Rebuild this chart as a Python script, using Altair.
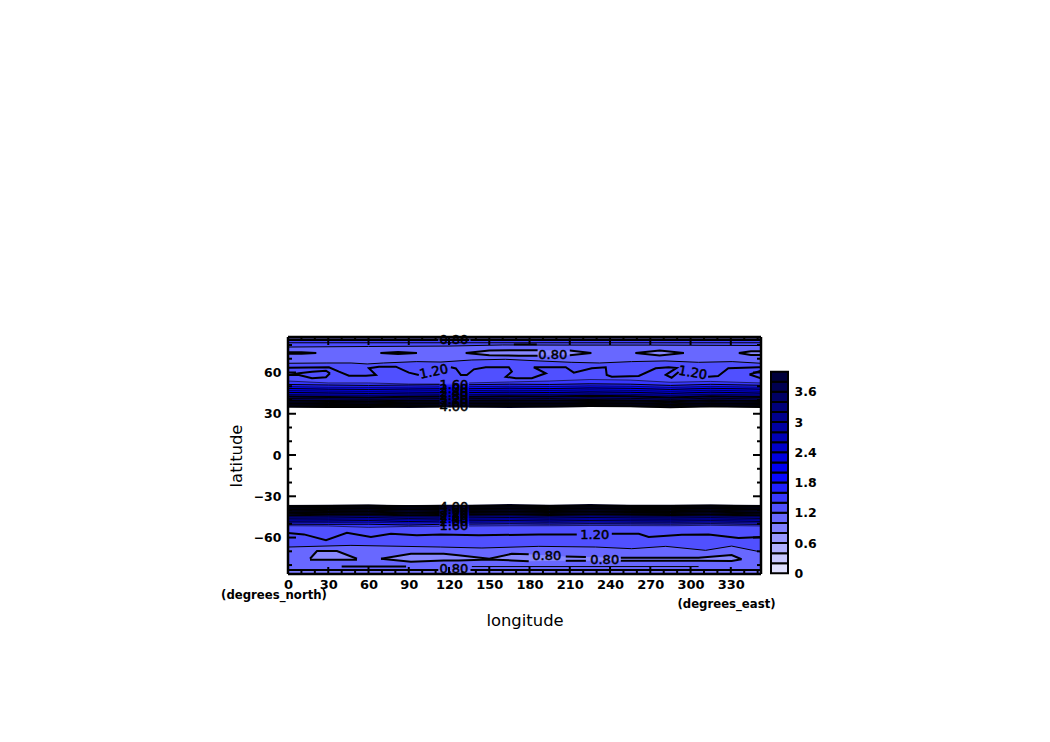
import altair as alt
import pandas as pd

# ---------- data ----------
FONT = "DejaVu Sans"
LON_DOMAIN = [0, 352.5]
LAT_DOMAIN = [-86.5, 85.8]
LON_TICKS = [0, 30, 60, 90, 120, 150, 180, 210, 240, 270, 300, 330]
LAT_TICKS = [-60, -30, 0, 30, 60]
LON_MAJOR = [30, 60, 90, 120, 150, 180, 210, 240, 270, 300, 330]
LON_MINOR = [10, 20, 40, 50, 70, 80, 100, 110, 130, 140, 160, 170, 190, 200, 220, 230, 250, 260, 280, 290, 310, 320, 340, 350]
LAT_MAJOR = [-60, -30, 0, 30, 60]
LAT_MINOR = [-80, -70, -50, -40, -20, -10, 10, 20, 40, 50, 70, 80]

CB_BOTTOM = [0, 0.2, 0.4, 0.6, 0.8, 1.0, 1.2, 1.4, 1.6, 1.8, 2.0, 2.2, 2.4, 2.6, 2.8, 3.0, 3.2, 3.4, 3.6, 3.8]
CB_COLORS = ["#e0e0ff", "#c8c8ff", "#b0b0ff", "#9898ff", "#8080ff", "#6868ff", "#5050ff", "#3838ff", "#2020ff", "#0808ff",
             "#0000f0", "#0000dc", "#0000c8", "#0000b4", "#0000a0", "#00008c", "#000078", "#000064", "#000050", "#00003c"]
CB_TICKS = [0, 0.6, 1.2, 1.8, 2.4, 3, 3.6]

STATIONS = [0, 30, 60, 90, 113, 135, 165, 195, 225, 255, 285, 315, 352.5]
N_14 = [53.8, 52.4, 52.4, 51.6, 51.6, 52.4, 53.1, 53.8, 54.9, 54.5, 52.9, 53.5, 52.4]
N_16 = [51.3, 50.9, 50.6, 50.9, 51.1, 51.1, 51.5, 51.3, 51.8, 51.5, 50.6, 51.4, 50.7]
N_18 = [49.8, 49.3, 49.2, 49.4, 49.6, 49.7, 50.0, 49.8, 50.3, 50.0, 49.2, 49.9, 49.3]
N_20 = [48.4, 47.9, 47.7, 48.0, 48.2, 48.2, 48.6, 48.3, 48.8, 48.5, 47.7, 48.5, 47.9]
N_22 = [46.9, 46.5, 46.3, 46.6, 46.8, 46.8, 47.1, 46.9, 47.4, 47.0, 46.3, 47.1, 46.4]
N_24 = [45.5, 45.1, 44.8, 45.1, 45.3, 45.4, 45.7, 45.4, 45.9, 45.6, 44.8, 45.7, 45.0]
N_26 = [44.0, 43.6, 43.4, 43.7, 43.9, 43.9, 44.2, 44.0, 44.5, 44.1, 43.4, 44.2, 43.6]
N_28 = [42.5, 42.2, 41.9, 42.3, 42.5, 42.4, 42.8, 42.5, 43.0, 42.7, 41.9, 42.8, 42.1]
N_30 = [41.1, 40.8, 40.5, 40.8, 41.0, 41.0, 41.3, 41.1, 41.5, 41.2, 40.5, 41.3, 40.7]
N_32 = [39.6, 39.3, 39.1, 39.4, 39.5, 39.6, 39.8, 39.6, 40.0, 39.7, 39.1, 39.9, 39.3]
N_34 = [38.5, 38.2, 38.0, 38.3, 38.4, 38.5, 38.7, 38.5, 38.9, 38.7, 38.1, 38.8, 38.2]
N_36 = [37.5, 37.1, 36.9, 37.2, 37.4, 37.4, 37.7, 37.4, 37.8, 37.6, 37.0, 37.7, 37.1]
N_38 = [36.4, 36.0, 35.9, 36.2, 36.3, 36.3, 36.6, 36.4, 36.7, 36.5, 35.9, 36.6, 36.1]
N_40 = [35.3, 35.0, 34.9, 35.2, 35.3, 35.3, 35.5, 35.3, 35.6, 35.5, 34.8, 35.5, 35.0]
N_EDGE = [34.6, 34.3, 34.5, 34.2, 34.6, 34.5, 34.2, 34.6, 34.9, 35.0, 34.4, 34.9, 34.5]

S_EDGE = [-36.2, -36.0, -35.8, -36.3, -36.0, -35.9, -35.7, -36.0, -35.7, -35.9, -36.0, -35.8, -36.2]
S_40 = [-37.2, -37.0, -36.9, -37.3, -37.1, -37.0, -36.8, -37.1, -36.8, -37.0, -37.1, -36.9, -37.3]
S_38 = [-38.3, -38.1, -38.0, -38.4, -38.2, -38.1, -37.9, -38.2, -37.9, -38.1, -38.2, -38.0, -38.4]
S_36 = [-39.4, -39.2, -39.1, -39.5, -39.3, -39.2, -39.0, -39.3, -39.0, -39.2, -39.3, -39.1, -39.5]
S_34 = [-40.5, -40.3, -40.2, -40.6, -40.4, -40.3, -40.1, -40.4, -40.1, -40.3, -40.4, -40.2, -40.6]
S_32 = [-41.6, -41.4, -41.3, -41.7, -41.5, -41.4, -41.2, -41.5, -41.2, -41.4, -41.5, -41.3, -41.7]
S_30 = [-42.6, -42.4, -42.3, -42.7, -42.5, -42.4, -42.2, -42.5, -42.2, -42.4, -42.5, -42.3, -42.7]
S_28 = [-43.7, -43.5, -43.3, -43.8, -43.6, -43.5, -43.3, -43.6, -43.3, -43.5, -43.6, -43.4, -43.8]
S_26 = [-44.8, -44.7, -44.4, -44.9, -44.7, -44.6, -44.4, -44.7, -44.4, -44.6, -44.7, -44.5, -44.9]
S_24 = [-45.9, -45.8, -45.5, -46.0, -45.8, -45.7, -45.5, -45.8, -45.5, -45.7, -45.8, -45.6, -46.0]
S_22 = [-47.0, -46.9, -46.6, -47.1, -46.9, -46.8, -46.6, -46.9, -46.6, -46.8, -46.9, -46.7, -47.1]
S_20 = [-48.1, -48.0, -47.7, -48.3, -48.0, -47.9, -47.7, -48.0, -47.7, -47.9, -48.0, -47.8, -48.2]
S_18 = [-49.2, -49.1, -48.9, -49.5, -49.2, -49.0, -48.8, -49.1, -48.8, -49.0, -49.1, -48.9, -49.3]
S_16 = [-50.3, -50.4, -50.3, -50.9, -50.4, -50.2, -50.0, -50.2, -50.0, -50.1, -50.2, -50.0, -50.4]
S_14 = [-51.4, -51.6, -52.6, -51.9, -51.8, -51.6, -51.4, -51.4, -51.2, -51.3, -51.4, -51.1, -51.6]

N_LINE_A_LON = [0, 112, 113, 135, 136, 352.5]
N_LINE_A_LAT = [83.6, 83.6, 83.6, 83.6, 83.6, 83.6]
N_LINE_B_LON = [0, 352.5]
N_LINE_B_LAT = [81.6, 81.6]
N_LINE_C_LON = [0, 60, 120, 160, 210, 270, 352.5]
N_LINE_C_LAT = [78.5, 78.9, 79.2, 80.0, 79.9, 79.9, 79.6]
N_THIN_LON = [0, 29, 47, 59, 71, 96, 114, 137, 162, 187, 211, 232, 256, 281, 306, 331, 352.5]
N_THIN_LAT = [66.7, 66.9, 66.9, 66.2, 66.9, 67.9, 67.6, 69.1, 69.6, 68.4, 67.4, 66.9, 67.9, 68.4, 67.4, 67.9, 66.7]
N_120_LON = [0, 30.5, 38, 45.4, 58.1, 65.5, 60.3, 67.8, 80.4, 90.1, 97.5, 121.4, 125.1, 128.8, 133.3, 138.5, 147.4, 164.6, 166.8, 162.3, 169.8, 181.7, 192.1, 183.2, 207, 213, 226.4, 236.8, 237.5, 241.3, 261.4, 274, 283.7, 289.6, 281.5, 285.9, 291.1, 313.1, 320.6, 328.1, 350.7, 352.5]
N_120_LAT = [63.5, 63.8, 60.6, 57.7, 57.7, 58.2, 63.1, 64.2, 64.2, 59.9, 58.2, 63.8, 62.9, 58.2, 58.2, 62.3, 63.8, 63.8, 60.6, 56.9, 55.8, 55.8, 59.4, 63.8, 63.8, 59.9, 63.1, 63.8, 58.2, 56.9, 57.5, 63.1, 63.8, 63.3, 58.2, 56.2, 60.4, 56.9, 57.5, 63.1, 63.8, 63.8]
N_120_BREAKS = [97.5, 291.1]

S_120_LON = [0, 11.9, 28.3, 43.9, 61.8, 76.7, 96, 113.9, 142.2, 186.9, 215.2, 241.3, 261.4, 268.8, 293.4, 313.5, 335.8, 352.5]
S_120_LAT = [-56.7, -57.7, -62.0, -56.5, -59.6, -57.2, -58.4, -57.7, -58.4, -57.7, -57.7, -57.2, -57.2, -59.6, -58.0, -57.7, -60.4, -59.6]
S_120_BREAKS = [215.2]
S_THIN_LON = [0, 46.9, 113.9, 144.5, 186.9, 229.3, 256.1, 281.5, 311.2, 330.6, 352.5]
S_THIN_LAT = [-66.9, -65.7, -66.9, -67.6, -66.4, -66.9, -68.1, -66.4, -69.3, -66.2, -70.5]
S_LOW_THICK_LON = [40, 88]
S_LOW_THICK_LAT = [-81.1, -81.1]
S_LOW_THIN_LON = [137, 306]
S_LOW_THIN_LAT = [-81.1, -81.1]
S_LOW_B_LON = [0, 112, 136, 352.5]
S_LOW_B_LAT = [-83.6, -83.6, -83.6, -83.6]
N_BAR_LON = [168.3, 185.4]
N_BAR_LAT = [80.4, 80.4]

LENS_COLOR = "#8888ff"
L1 = ([0, 10, 21], [74.8, 74.8, 74.2], [73.6, 73.6, 74.2], LENS_COLOR, [])
L2 = ([69, 82, 96], [74.2, 74.9, 74.2], [74.2, 73.5, 74.2], LENS_COLOR, [])
L3 = ([132.5, 150, 172, 186, 210, 226], [74.2, 76.0, 76.2, 76.2, 76.0, 74.2], [74.2, 72.5, 72.2, 72.2, 72.5, 74.2], LENS_COLOR, [186])
L4 = ([259, 277, 295], [74.2, 75.9, 74.2], [74.2, 72.4, 74.2], LENS_COLOR, [])
L5 = ([336, 345, 352.5], [74.2, 75.5, 75.5], [74.2, 72.8, 72.8], LENS_COLOR, [])
N_LOOP_1 = ([0.7, 8.2, 17.9, 28.3, 31.3], [58.2, 59.5, 60.5, 61.3, 59.4], [58.2, 58.2, 55.8, 56.5, 59.4], "#5050ff", [])
N_LOOP_2 = ([344, 352.5], [58.5, 61.3], [58.5, 55.8], "#5050ff", [])
S1 = ([16.4, 21.6, 36.5, 51.4], [-75.4, -69.8, -69.8, -75.4], [-76.1, -76.1, -76.1, -76.1], LENS_COLOR, [])
S2 = ([69.3, 91.6, 116, 127, 150, 166.8, 179.4, 207, 222, 248, 306, 330.6, 338],
      [-75.4, -71.8, -71.8, -72.9, -75.4, -71.8, -72.2, -73.8, -74.2, -74.6, -74.6, -72.7, -75.8],
      [-75.4, -77.6, -76.6, -76.6, -75.9, -76.6, -77.3, -76.9, -76.9, -76.8, -76.8, -77.1, -75.8],
      LENS_COLOR, [179.4, 222])

LABEL_TEXT = ["0.80", "1.20", "1.60", "2.00", "2.40", "2.80", "3.20", "3.60", "4.00", "0.80", "1.20",
              "4.00", "3.60", "3.20", "2.80", "2.40", "2.00", "1.60", "1.20", "0.80", "0.80", "0.80"]
LABEL_LON = [123.6, 108.7, 123.6, 123.6, 123.6, 123.6, 123.6, 123.6, 123.6, 197.3, 301.6,
             123.6, 123.6, 123.6, 123.6, 123.6, 123.6, 123.6, 228.6, 192.8, 236, 123.6]
LABEL_LAT = [83.6, 60.4, 50.9, 48, 45.1, 42.9, 40, 37.8, 34.9, 72.7, 59.6,
             -37.8, -40, -42.2, -44.4, -46.5, -48.7, -51.6, -58.2, -73.5, -76.4, -82.9]
LABEL_ANGLE = [0, 348, 0, 0, 0, 0, 0, 0, 0, 0, 10,
               0, 0, 0, 0, 0, 0, 0, 0, 0, 0, 0]

# ---------- frames ----------
W, H = 473, 237
thick, thin, fine, finest = [], [], [], []
uid = [0]
area_layers = []
xs = alt.Scale(domain=LON_DOMAIN, nice=False, zero=False)
ys = alt.Scale(domain=LAT_DOMAIN, nice=False, zero=False)
AX = alt.Axis(values=LON_TICKS, format="d", domain=False, ticks=False, grid=False, labelFlush=False,
              labelFont=FONT, labelFontWeight="bold", labelFontSize=13, labelColor="black", labelPadding=4,
              titleFont=FONT, titleFontWeight="normal", titleFontSize=16.4, titleColor="black", titlePadding=21)
AY = alt.Axis(values=LAT_TICKS, format="d", domain=False, ticks=False, grid=False,
              labelFont=FONT, labelFontWeight="bold", labelFontSize=12.5, labelColor="black", labelPadding=7,
              titleFont=FONT, titleFontWeight="normal", titleFontSize=16.4, titleColor="black", titlePadding=9)
X0 = alt.X("lon:Q", scale=xs, axis=AX, title="longitude")
Y0 = alt.Y("lat:Q", scale=ys, axis=AY, title="latitude")


def add_fill(lon, lat, color, base, ordered=False):
    df = pd.DataFrame({"lon": lon, "lat": lat, "n": list(range(len(lon))), "lat2": [base] * len(lon)})
    enc = dict(x=X0, y=Y0, y2="lat2:Q")
    if ordered:
        enc["order"] = "n:Q"
    area_layers.append(alt.Chart(df).mark_area(clip=True, color=color).encode(**enc))


def add_line(store, lon, lat, breaks=()):
    uid[0] += 1
    for i, (a, b) in enumerate(zip(lon, lat)):
        store.append(dict(id=uid[0], n=i, lon=a, lat=b))
        if a in breaks:
            uid[0] += 1
    uid[0] += 1


dense_n = [N_14, N_16, N_18, N_20, N_22, N_24, N_26, N_28, N_30, N_32, N_34, N_36, N_38, N_40]
dense_s = [S_14, S_16, S_18, S_20, S_22, S_24, S_26, S_28, S_30, S_32, S_34, S_36, S_38, S_40]
GAP = (113,)

# north: pole to equator
add_fill(LON_DOMAIN, [90, 90], "#3c3c78", 0)
add_fill([0, 352.5], [83.6, 83.6], "#4040ff", 0)
add_fill(N_LINE_B_LON, N_LINE_B_LAT, "#4c4cff", 0)
add_fill(N_LINE_C_LON, N_LINE_C_LAT, "#6868ff", 0)
add_fill(N_THIN_LON, N_THIN_LAT, "#5050ff", 0)
add_fill(N_120_LON, N_120_LAT, "#3838ff", 0, ordered=True)
for i, arr in enumerate(dense_n):
    add_fill(STATIONS, arr, CB_COLORS[7 + i] if 7 + i < 20 else "#000028", 0)

# south: edge to pole
add_fill(STATIONS, S_EDGE, "#000028", -90)
for i, arr in reversed(list(enumerate(dense_s))):
    add_fill(STATIONS, arr, CB_COLORS[6 + i], -90)
add_fill(S_120_LON, S_120_LAT, "#5050ff", -90)
add_fill(S_THIN_LON, S_THIN_LAT, "#6868ff", -90)
add_fill([0, 352.5], [-83.6, -83.6], "#7c7cff", -90)

for group in (dense_n, dense_s):
    for i, arr in enumerate(group):
        if i <= 6:
            add_line(fine if i % 2 == 1 else finest, STATIONS, arr, GAP)
        else:
            add_line(thick if i % 2 == 1 else thin, STATIONS, arr, GAP)
add_line(thick, N_LINE_A_LON, N_LINE_A_LAT, [112, 135])
add_line(thin, N_LINE_B_LON, N_LINE_B_LAT)
add_line(thin, N_LINE_C_LON, N_LINE_C_LAT)
add_line(thin, N_THIN_LON, N_THIN_LAT)
add_line(thick, N_120_LON, N_120_LAT, N_120_BREAKS)
add_line(thick, S_120_LON, S_120_LAT, S_120_BREAKS)
add_line(thin, S_THIN_LON, S_THIN_LAT)
add_line(thick, S_LOW_THICK_LON, S_LOW_THICK_LAT)
add_line(thin, S_LOW_THIN_LON, S_LOW_THIN_LAT)
add_line(thick, S_LOW_B_LON, S_LOW_B_LAT, [112])
add_line(thick, N_BAR_LON, N_BAR_LAT)

mask = pd.DataFrame({"lon": STATIONS, "lat": N_EDGE, "lat2": S_EDGE})
belt = alt.Chart(mask).mark_area(clip=True, color="white").encode(x=X0, y=Y0, y2="lat2:Q")
lens_layers = []
for lo, up, dn, col, brk in [L1, L2, L3, L4, L5, N_LOOP_1, N_LOOP_2, S1, S2]:
    lens_df = pd.DataFrame({"lon": lo, "lat": up, "lat2": dn})
    lens_layers.append(alt.Chart(lens_df).mark_area(clip=True, color=col).encode(x=X0, y=Y0, y2="lat2:Q"))
    add_line(thick, lo, up, brk)
    add_line(thick, lo, dn, brk)

labels = pd.DataFrame({"t": LABEL_TEXT, "lon": LABEL_LON, "lat": LABEL_LAT, "a": LABEL_ANGLE})


def lines(store, width):
    return alt.Chart(pd.DataFrame(store)).mark_line(clip=True, color="#000000", strokeWidth=width).encode(
        x=X0, y=Y0, detail="id:N", order="n:Q")


text = alt.Chart(labels).mark_text(font=FONT, fontSize=13, color="black", stroke="black", strokeWidth=0.5).encode(
    x=X0, y=Y0, text="t:N", angle=alt.Angle("a:Q", scale=None))


def ticks_x(vals, length, pos):
    return alt.Chart(pd.DataFrame({"lon": vals})).mark_rule(color="black", strokeWidth=2).encode(
        x=X0, y=alt.value(pos), y2=alt.value(pos + length))


def ticks_y(vals, length, pos):
    return alt.Chart(pd.DataFrame({"lat": vals})).mark_rule(color="black", strokeWidth=2).encode(
        y=Y0, x=alt.value(pos), x2=alt.value(pos + length))


one = pd.DataFrame({"v": [0]})
frame = [
    alt.Chart(one).mark_rule(color="black", strokeWidth=2.5).encode(x=alt.value(0), x2=alt.value(W), y=alt.value(0)),
    alt.Chart(one).mark_rule(color="black", strokeWidth=2.5).encode(x=alt.value(0), x2=alt.value(W), y=alt.value(H)),
    alt.Chart(one).mark_rule(color="black", strokeWidth=2.5).encode(y=alt.value(0), y2=alt.value(H), x=alt.value(0)),
    alt.Chart(one).mark_rule(color="black", strokeWidth=2.5).encode(y=alt.value(0), y2=alt.value(H), x=alt.value(W)),
]
note_n = alt.Chart(one).mark_text(text="(degrees_north)", font=FONT, fontWeight="bold", fontSize=11.7, color="black").encode(
    x=alt.value(-14), y=alt.value(258))
note_e = alt.Chart(one).mark_text(text="(degrees_east)", font=FONT, fontWeight="bold", fontSize=11.7, color="black").encode(
    x=alt.value(438.5), y=alt.value(267))

main = alt.layer(
    *area_layers, belt, *lens_layers,
    lines(finest, 0.6), lines(fine, 1.0), lines(thin, 1), lines(thick, 2), text,
    ticks_x(LON_MAJOR, 8, 0), ticks_x(LON_MINOR, 4, 0),
    ticks_x(LON_MAJOR, -7, H), ticks_x(LON_MINOR, -3, H),
    ticks_y(LAT_MAJOR, 8, 0), ticks_y(LAT_MINOR, 4, 0),
    ticks_y(LAT_MAJOR, -8, W), ticks_y(LAT_MINOR, -4, W),
    *frame, note_n, note_e,
).properties(width=W, height=H, view=alt.ViewConfig(stroke=None))

cb = pd.DataFrame({"lo": CB_BOTTOM, "hi": [v + 0.2 for v in CB_BOTTOM], "c": CB_COLORS})
bar = alt.Chart(cb).mark_rect(stroke="black", strokeWidth=2).encode(
    y=alt.Y("lo:Q", scale=alt.Scale(domain=[-0.014, 4.688], nice=False, zero=False), title=None, axis=alt.Axis(
        orient="right", values=CB_TICKS, domain=False, ticks=False, grid=False, format="~g",
        labelFont=FONT, labelFontWeight="bold", labelFontSize=12.5, labelColor="black", labelPadding=6)),
    y2="hi:Q", x=alt.value(0), x2=alt.value(17), fill=alt.Fill("c:N", scale=None),
).properties(width=17, height=H, view=alt.ViewConfig(stroke=None))

chart = alt.hconcat(main, bar, spacing=10, bounds="flush").properties(
    padding={"left": 213, "top": 326, "right": 5, "bottom": 5}
).configure_view(stroke=None).configure(background="white")

chart.save("out.html", embed_options={"renderer": "svg", "actions": False})
